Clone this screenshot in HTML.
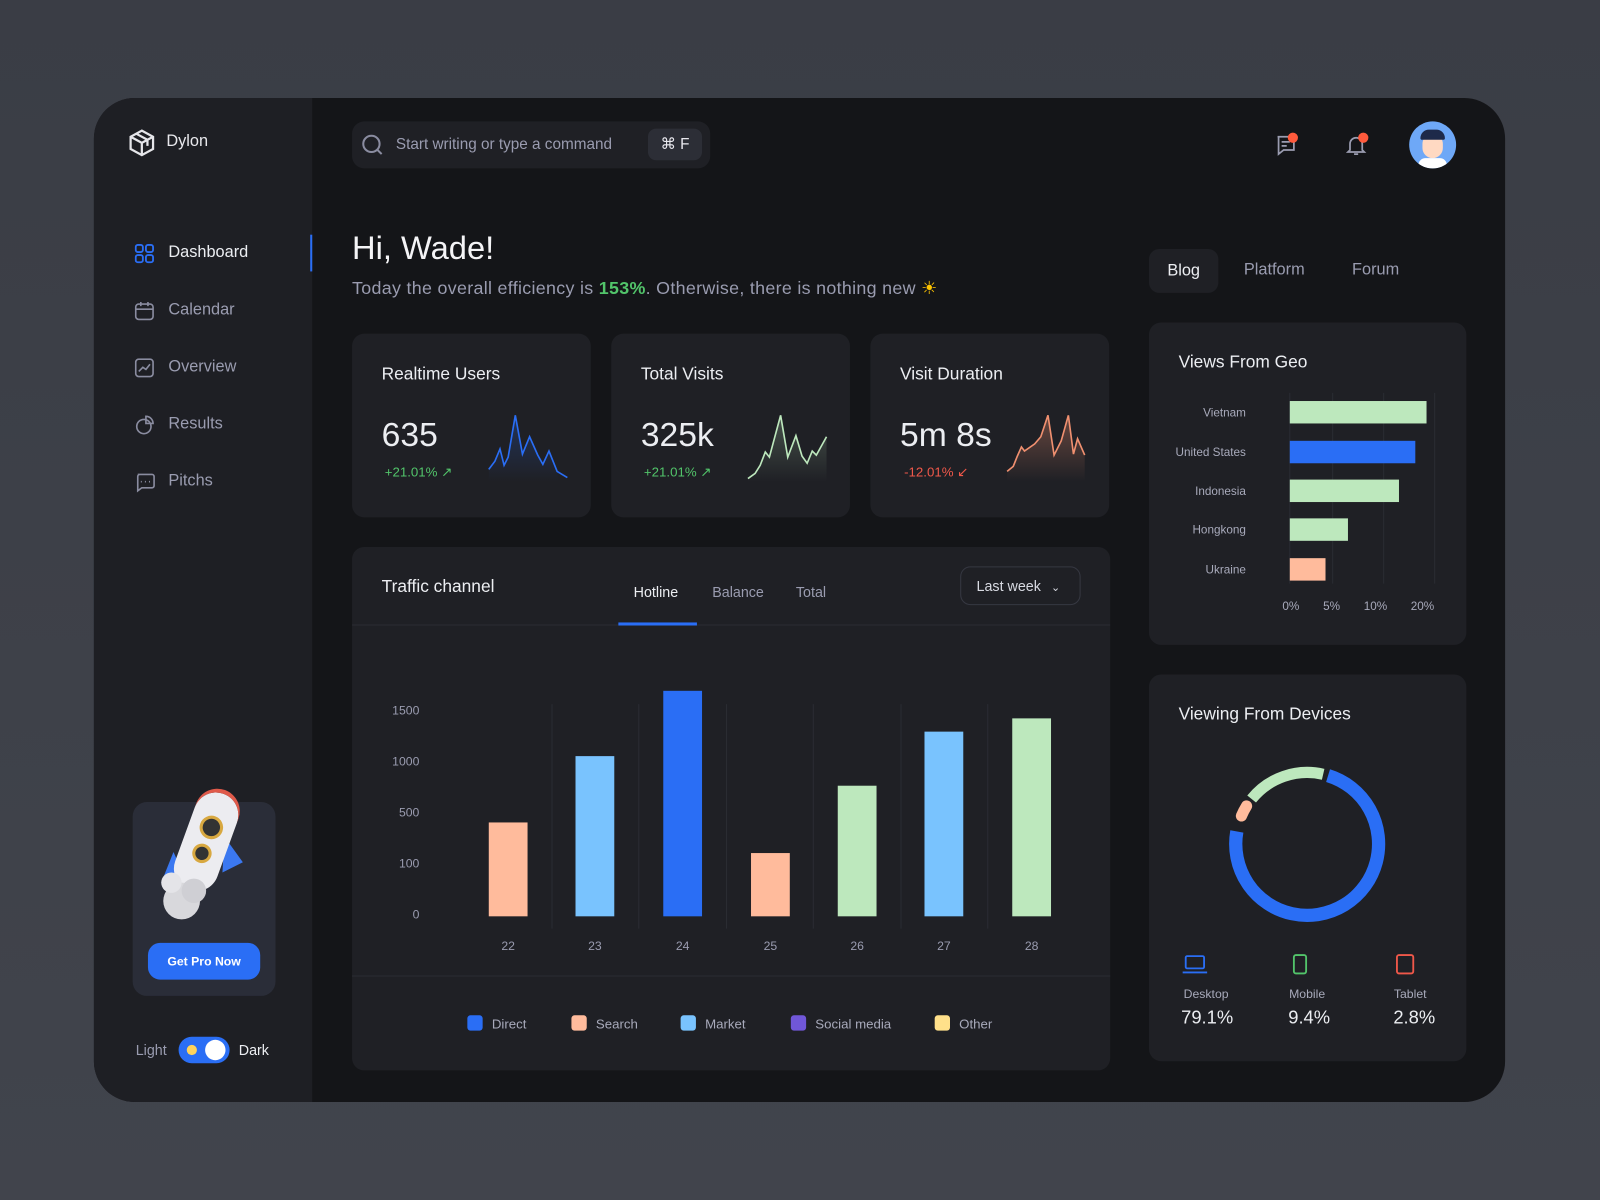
<!DOCTYPE html>
<html><head><meta charset="utf-8"><style>
*{box-sizing:border-box;margin:0;padding:0}
html,body{width:1600px;height:1200px;overflow:hidden;background:#3b3e46;font-family:"Liberation Sans",sans-serif}
#s{position:absolute;left:0;top:0;width:1568px;height:1176px;transform:scale(1.020408);transform-origin:0 0;background:linear-gradient(#3a3d45,#41444c)}
.a{position:absolute}
.card{position:absolute;background:#1f2025;border-radius:12px}
.t{position:absolute;white-space:nowrap}
.nav{position:absolute;left:165px;font-size:16px;color:#9a9cb0}
</style></head><body><div id="s">
<div class="a" style="left:92px;top:96px;width:1383px;height:984px;border-radius:40px;background:#141518;overflow:hidden">
<div class="a" style="left:0;top:0;width:214px;height:984px;background:#1e1f24"></div>
<div class="a" style="left:212px;top:134px;width:2px;height:36px;background:#2a6ef5"></div>
</div>
<!-- logo -->
<svg class="a" style="left:125px;top:126px" width="28" height="28" viewBox="0 0 28 28" fill="none" stroke="#e6e6ea" stroke-width="2.2"><path d="M14 2 L25 8 V20 L14 26 L3 20 V8 Z M3 8 L14 14 L25 8 M14 14 V26 M8.5 5 L19.5 11 V17"/></svg>
<div class="t" style="left:163px;top:130px;font-size:16px;color:#e8e8ec">Dylon</div>
<!-- nav -->
<svg class="a" style="left:132px;top:239px" width="20" height="20" fill="none" stroke="#2a6ef5" stroke-width="1.8"><rect x="1" y="1" width="7" height="7" rx="2"/><rect x="11" y="1" width="7" height="7" rx="2"/><rect x="1" y="11" width="7" height="7" rx="2"/><rect x="11" y="11" width="7" height="7" rx="2"/></svg>
<div class="nav" style="top:239px;color:#eceef2">Dashboard</div>
<svg class="a" style="left:132px;top:295px" width="20" height="20" fill="none" stroke="#8a8ca0" stroke-width="1.6"><rect x="1" y="3" width="17" height="15" rx="3"/><path d="M1 8h17M6 1v4M13 1v4"/></svg>
<div class="nav" style="top:295px">Calendar</div>
<svg class="a" style="left:132px;top:351px" width="20" height="20" fill="none" stroke="#8a8ca0" stroke-width="1.6"><rect x="1" y="1" width="17" height="17" rx="3"/><path d="M4 13l4-4 3 2 4-5"/></svg>
<div class="nav" style="top:351px">Overview</div>
<svg class="a" style="left:132px;top:407px" width="20" height="20" fill="none" stroke="#8a8ca0" stroke-width="1.6"><circle cx="9" cy="11" r="7"/><path d="M11 1v7h7a7 7 0 0 0-7-7z"/></svg>
<div class="nav" style="top:407px">Results</div>
<svg class="a" style="left:132px;top:463px" width="20" height="20" fill="none" stroke="#8a8ca0" stroke-width="1.6"><path d="M3 2h14a2 2 0 0 1 2 2v9a2 2 0 0 1-2 2H7l-4 3V4a2 2 0 0 1 2-2z"/><path d="M6 9h1M10 9h1M14 9h1"/></svg>
<div class="nav" style="top:463px">Pitchs</div>
<!-- pro card -->
<div class="a" style="left:130px;top:786px;width:140px;height:190px;border-radius:14px;background:#2a2d38"></div>
<svg class="a" style="left:140px;top:765px" width="110" height="145">
<path d="M30 70 L18 100 L40 92 Z" fill="#3b78f0"/>
<path d="M80 55 L98 80 L78 90 Z" fill="#3b78f0"/>
<g transform="rotate(20 62 60)">
<rect x="40" y="10" width="44" height="100" rx="22" fill="#ececf0"/>
<path d="M40 32 A22 22 0 0 1 84 32 L84 28 A22 22 0 0 0 62 6 A22 22 0 0 0 40 28Z" fill="#e05a4a"/>
<circle cx="62" cy="45" r="10" fill="#333" stroke="#d8a840" stroke-width="3"/>
<circle cx="62" cy="72" r="8" fill="#333" stroke="#d8a840" stroke-width="3"/>
</g>
<circle cx="38" cy="118" r="18" fill="#d8d8dc"/><circle cx="28" cy="100" r="10" fill="#e4e4e8"/><circle cx="50" cy="108" r="12" fill="#cfcfd4"/>
</svg>
<div class="a" style="left:145px;top:924px;width:110px;height:36px;border-radius:12px;background:#2a6ef5;color:#fff;font-size:12px;font-weight:bold;text-align:center;line-height:36px">Get Pro Now</div>
<div class="t" style="left:133px;top:1021px;font-size:14px;color:#9a9cb0">Light</div>
<div class="a" style="left:175px;top:1016px;width:50px;height:26px;border-radius:13px;background:#2a6ef5"><div class="a" style="left:26px;top:3px;width:20px;height:20px;border-radius:50%;background:#fff"></div><div class="a" style="left:8px;top:8px;width:10px;height:10px;border-radius:50%;background:#ffd35c"></div></div>
<div class="t" style="left:234px;top:1021px;font-size:14px;color:#eceef2">Dark</div>
<!-- search -->
<div class="a" style="left:345px;top:119px;width:351px;height:46px;border-radius:12px;background:#1f2025"></div>
<svg class="a" style="left:354px;top:131px" width="22" height="22" fill="none" stroke="#8a8ca0" stroke-width="2"><circle cx="10" cy="10" r="8"/><path d="M16 16l4 4"/></svg>
<div class="t" style="left:388px;top:133px;font-size:15px;color:#9a9cb0">Start writing or type a command</div>
<div class="a" style="left:635px;top:126px;width:53px;height:31px;border-radius:8px;background:#2c2e36;color:#e8e8ee;font-size:15px;text-align:center;line-height:31px">⌘ F</div>
<!-- top right icons -->
<svg class="a" style="left:1249px;top:131px" width="24" height="24" fill="none" stroke="#9a9cb0" stroke-width="1.7"><path d="M3 3h16v13H9l-5 4V3z"/><path d="M7 8h8M7 12h5"/></svg>
<div class="a" style="left:1262px;top:130px;width:10px;height:10px;border-radius:50%;background:#ff5a3c"></div>
<svg class="a" style="left:1318px;top:131px" width="24" height="24" fill="none" stroke="#9a9cb0" stroke-width="1.7"><path d="M5 16V10a6 6 0 0 1 12 0v6l2 2H3z"/><path d="M9 20h4"/></svg>
<div class="a" style="left:1331px;top:130px;width:10px;height:10px;border-radius:50%;background:#ff5a3c"></div>
<div class="a" style="left:1381px;top:119px;width:46px;height:46px;border-radius:50%;background:#6ea8f7;overflow:hidden"><div class="a" style="left:13px;top:12px;width:20px;height:24px;border-radius:10px;background:#ffd9c2"></div><div class="a" style="left:11px;top:8px;width:24px;height:10px;border-radius:10px 10px 2px 2px;background:#1e2a4a"></div><div class="a" style="left:9px;top:36px;width:28px;height:14px;border-radius:10px;background:#fff"></div></div>
<!-- greeting -->
<div class="t" style="left:345px;top:225px;font-size:32px;color:#f4f4f6">Hi, Wade!</div>
<div class="t" style="left:345px;top:272px;font-size:17.5px;letter-spacing:0.3px;color:#9a9cb0">Today the overall efficiency is <b style="color:#52c46a">153%</b>. Otherwise, there is nothing new <span style="color:#ffc400">☀</span></div>
<!-- stat cards -->
<div class="card" style="left:345px;top:327px;width:234px;height:180px"></div>
<div class="card" style="left:599px;top:327px;width:234px;height:180px"></div>
<div class="card" style="left:853px;top:327px;width:234px;height:180px"></div>
<div class="t" style="left:374px;top:357px;font-size:17px;color:#eceef2">Realtime Users</div>
<div class="t" style="left:628px;top:357px;font-size:17px;color:#eceef2">Total Visits</div>
<div class="t" style="left:882px;top:357px;font-size:17px;color:#eceef2">Visit Duration</div>
<div class="t" style="left:374px;top:407px;font-size:33px;color:#eceef2">635</div>
<div class="t" style="left:628px;top:407px;font-size:33px;color:#eceef2">325k</div>
<div class="t" style="left:882px;top:407px;font-size:33px;color:#eceef2">5m 8s</div>
<div class="t" style="left:377px;top:455px;font-size:13px;color:#52c46a">+21.01% ↗</div>
<div class="t" style="left:631px;top:455px;font-size:13px;color:#52c46a">+21.01% ↗</div>
<div class="t" style="left:886px;top:455px;font-size:13px;color:#f0584a">-12.01% ↙</div>
<svg class="a" style="left:0;top:0" width="1568" height="1176">
<defs>
<linearGradient id="gb" x1="0" y1="0" x2="0" y2="1"><stop offset="0" stop-color="#2a6ef5" stop-opacity=".25"/><stop offset="1" stop-color="#2a6ef5" stop-opacity="0"/></linearGradient>
<linearGradient id="gg" x1="0" y1="0" x2="0" y2="1"><stop offset="0" stop-color="#bde8bd" stop-opacity=".25"/><stop offset="1" stop-color="#bde8bd" stop-opacity="0"/></linearGradient>
<linearGradient id="gr" x1="0" y1="0" x2="0" y2="1"><stop offset="0" stop-color="#f09070" stop-opacity=".35"/><stop offset="1" stop-color="#f09070" stop-opacity="0"/></linearGradient>
</defs>
<path d="M479 460 L485 452 L490 440 L494 456 L498 448 L505 407 L512 445 L519 428 L527 446 L532 455 L538 442 L546 462 L547 472 L479 472Z" fill="url(#gb)"/>
<polyline points="479,460 485,452 490,440 494,456 498,448 505,407 512,445 519,428 527,446 532,455 538,442 546,462 556,468" fill="none" stroke="#2a6ef5" stroke-width="1.6"/>
<path d="M733 469 L740 464 L745 456 L750 443 L754 448 L765 407 L772 448 L780 427 L786 447 L791 454 L796 442 L800 446 L810 428 L810 472 L733 472Z" fill="url(#gg)"/>
<polyline points="733,469 740,464 745,456 750,443 754,448 765,407 772,448 780,427 786,447 791,454 796,442 800,446 810,428" fill="none" stroke="#bde8bd" stroke-width="1.6"/>
<path d="M987 462 L993 457 L997 447 L1001 438 L1004 442 L1014 435 L1020 428 L1027 407 L1033 446 L1040 432 L1047 407 L1052 445 L1056 430 L1063 446 L1063 472 L987 472Z" fill="url(#gr)"/>
<polyline points="987,462 993,457 997,447 1001,438 1004,442 1014,435 1020,428 1027,407 1033,446 1040,432 1047,407 1052,445 1056,430 1063,446" fill="none" stroke="#f09070" stroke-width="1.6"/>
</svg>
<!-- traffic card -->
<div class="card" style="left:345px;top:536px;width:743px;height:513px"></div>
<div class="a" style="left:345px;top:612px;width:743px;height:1px;background:#2b2d34"></div>
<div class="a" style="left:345px;top:956px;width:743px;height:1px;background:#2b2d34"></div>
<div class="t" style="left:374px;top:565px;font-size:17px;color:#eceef2">Traffic channel</div>
<div class="t" style="left:621px;top:572px;font-size:14px;color:#eceef2">Hotline</div>
<div class="a" style="left:606px;top:610px;width:77px;height:3px;background:#2a6ef5"></div>
<div class="t" style="left:698px;top:572px;font-size:14px;color:#9a9cb0">Balance</div>
<div class="t" style="left:780px;top:572px;font-size:14px;color:#9a9cb0">Total</div>
<div class="a" style="left:941px;top:555px;width:118px;height:38px;border-radius:10px;border:1px solid #363842;color:#d8dae2;font-size:14px;line-height:36px;padding-left:15px">Last week <span style="font-size:11px;margin-left:6px">⌄</span></div>
<svg class="a" style="left:0;top:0" width="1568" height="1176" font-family="Liberation Sans, sans-serif">
<g stroke="#2a2c33" stroke-width="1">
<line x1="541" y1="690" x2="541" y2="910"/><line x1="626" y1="690" x2="626" y2="910"/><line x1="712" y1="690" x2="712" y2="910"/><line x1="797" y1="690" x2="797" y2="910"/><line x1="883" y1="690" x2="883" y2="910"/><line x1="968" y1="690" x2="968" y2="910"/>
</g>
<g font-size="12" fill="#9a9cb0" text-anchor="end">
<text x="411" y="700">1500</text><text x="411" y="750">1000</text><text x="411" y="800">500</text><text x="411" y="850">100</text><text x="411" y="900">0</text>
</g>
<rect x="479" y="806" width="38" height="92" fill="#ffbb9c"/>
<rect x="564" y="741" width="38" height="157" fill="#79c3fe"/>
<rect x="650" y="677" width="38" height="221" fill="#2a6ef5"/>
<rect x="736" y="836" width="38" height="62" fill="#ffbb9c"/>
<rect x="821" y="770" width="38" height="128" fill="#bde8bd"/>
<rect x="906" y="717" width="38" height="181" fill="#79c3fe"/>
<rect x="992" y="704" width="38" height="194" fill="#bde8bd"/>
<g font-size="12" fill="#9a9cb0" text-anchor="middle">
<text x="498" y="931">22</text><text x="583" y="931">23</text><text x="669" y="931">24</text><text x="755" y="931">25</text><text x="840" y="931">26</text><text x="925" y="931">27</text><text x="1011" y="931">28</text>
</g>
<g font-size="13" fill="#a8aabb">
<rect x="458" y="995" width="15" height="15" rx="3" fill="#2a6ef5"/><text x="482" y="1008">Direct</text>
<rect x="560" y="995" width="15" height="15" rx="3" fill="#ffbb9c"/><text x="584" y="1008">Search</text>
<rect x="667" y="995" width="15" height="15" rx="3" fill="#79c3fe"/><text x="691" y="1008">Market</text>
<rect x="775" y="995" width="15" height="15" rx="3" fill="#7057d8"/><text x="799" y="1008">Social media</text>
<rect x="916" y="995" width="15" height="15" rx="3" fill="#ffe08a"/><text x="940" y="1008">Other</text>
</g>
</svg>
<!-- right tabs -->
<div class="a" style="left:1126px;top:244px;width:68px;height:43px;border-radius:10px;background:#1f2025;color:#eceef2;font-size:16px;text-align:center;line-height:43px">Blog</div>
<div class="t" style="left:1219px;top:256px;font-size:16px;color:#9a9cb0">Platform</div>
<div class="t" style="left:1325px;top:256px;font-size:16px;color:#9a9cb0">Forum</div>
<!-- geo -->
<div class="card" style="left:1126px;top:316px;width:311px;height:316px"></div>
<div class="t" style="left:1155px;top:345px;font-size:17px;color:#eceef2">Views From Geo</div>
<svg class="a" style="left:0;top:0" width="1568" height="1176" font-family="Liberation Sans, sans-serif">
<g stroke="#2a2c33"><line x1="1264" y1="385" x2="1264" y2="572"/><line x1="1306" y1="385" x2="1306" y2="572"/><line x1="1356" y1="385" x2="1356" y2="572"/><line x1="1406" y1="385" x2="1406" y2="572"/></g>
<rect x="1264" y="393" width="134" height="22" fill="#bde8bd"/>
<rect x="1264" y="432" width="123" height="22" fill="#2a6ef5"/>
<rect x="1264" y="470" width="107" height="22" fill="#bde8bd"/>
<rect x="1264" y="508" width="57" height="22" fill="#bde8bd"/>
<rect x="1264" y="547" width="35" height="22" fill="#ffbb9c"/>
<g font-size="11.5" fill="#a8aabb" text-anchor="end">
<text x="1221" y="408">Vietnam</text><text x="1221" y="447">United States</text><text x="1221" y="485">Indonesia</text><text x="1221" y="523">Hongkong</text><text x="1221" y="562">Ukraine</text>
</g>
<g font-size="11.5" fill="#a8aabb" text-anchor="middle">
<text x="1265" y="598">0%</text><text x="1305" y="598">5%</text><text x="1348" y="598">10%</text><text x="1394" y="598">20%</text>
</g>
</svg>
<!-- devices -->
<div class="card" style="left:1126px;top:661px;width:311px;height:379px"></div>
<div class="t" style="left:1155px;top:690px;font-size:17px;color:#eceef2">Viewing From Devices</div>
<svg class="a" style="left:0;top:0" width="1568" height="1176" font-family="Liberation Sans, sans-serif">
<path d="M1301.5 760.1 A70 70 0 1 1 1212.1 814.8" fill="none" stroke="#2a6ef5" stroke-width="13"/>
<path d="M1216.6 799.6 A70 70 0 0 1 1221.6 789.9" fill="none" stroke="#ffbb9c" stroke-width="11" stroke-linecap="round"/>
<path d="M1226.6 783.0 A70 70 0 0 1 1296.7 758.8" fill="none" stroke="#bde8bd" stroke-width="11"/>
<g fill="none" stroke-width="1.8">
<rect x="1162" y="937" width="18" height="12" rx="1.5" stroke="#2a6ef5"/><line x1="1159" y1="953" x2="1183" y2="953" stroke="#2a6ef5"/>
<rect x="1268" y="936" width="12" height="18" rx="2" stroke="#52c46a"/>
<rect x="1369" y="936" width="16" height="18" rx="2" stroke="#f0584a"/>
</g>
<g font-size="12" fill="#a8aabb" text-anchor="middle"><text x="1182" y="978">Desktop</text><text x="1281" y="978">Mobile</text><text x="1382" y="978">Tablet</text></g>
<g font-size="18" fill="#eceef2" text-anchor="middle"><text x="1183" y="1003">79.1%</text><text x="1283" y="1003">9.4%</text><text x="1386" y="1003">2.8%</text></g>
</svg>
</div></body></html>
